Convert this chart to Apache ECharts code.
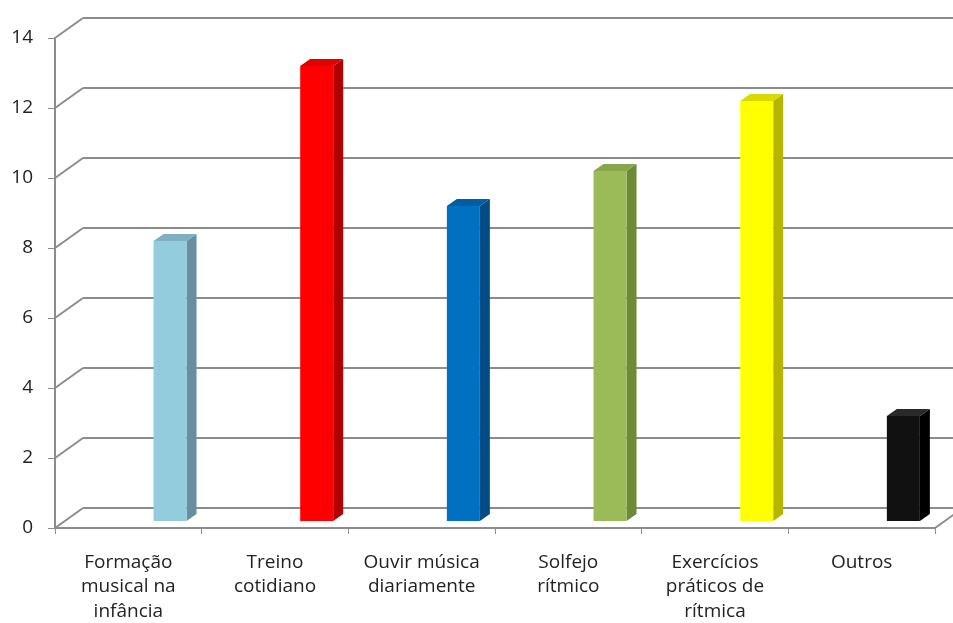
<!DOCTYPE html>
<html>
<head>
<meta charset="utf-8">
<script src="https://cdn.jsdelivr.net/npm/echarts@6/dist/echarts.min.js"></script>
<style>
html,body{margin:0;padding:0;background:#fff;}
#main{width:953px;height:623px;}
</style>
</head>
<body>
<div id="main"></div>
<script>
const categories = ['Formação\nmusical na\ninfância', 'Treino\ncotidiano', 'Ouvir música\ndiariamente', 'Solfejo\nrítmico', 'Exercícios\npráticos de\nrítmica', 'Outros'];
const values = [8, 13, 9, 10, 12, 3];
const yTicks = [0, 2, 4, 6, 8, 10, 12, 14];
const faceColors = ['#93CDDD', '#FF0000', '#0070C0', '#9BBB59', '#FFFF00', '#111111'];
const sideColors = ['#66909F', '#B00000', '#004C85', '#6C8A38', '#B5B500', '#000000'];
const topColors = ['#7FAFC0', '#E00000', '#005EA3', '#88A64C', '#DADA00', '#2A2A2A'];

const gridColor = '#8c8c8c';
const DX = 28, DY = -20;

const chart = echarts.init(document.getElementById('main'), null, {renderer: 'canvas'});

const option = {
  animation: false,
  backgroundColor: '#ffffff',
  textStyle: {fontFamily: 'Open Sans'},
  grid: [
    {left: 55, top: 38, width: 880, height: 490, outerBoundsMode: 'none', containLabel: false},
    {left: 83, top: 18, width: 920, height: 490, outerBoundsMode: 'none', containLabel: false},
    {left: 96.7, top: 31, width: 880, height: 490, outerBoundsMode: 'none', containLabel: false}
  ],
  xAxis: [
    {
      gridIndex: 0, type: 'category', data: categories, boundaryGap: true,
      axisLine: {lineStyle: {color: gridColor, width: 2}},
      axisTick: {show: true, length: 6, lineStyle: {color: gridColor, width: 1}},
      axisLabel: {color: '#222222', fontSize: 19, lineHeight: 24.5, margin: 22, interval: 0, fontFamily: 'Open Sans'},
      splitLine: {show: false}
    },
    {gridIndex: 1, type: 'value', min: 0, max: 1, show: false},
    {gridIndex: 2, type: 'category', data: categories, boundaryGap: true, show: false}
  ],
  yAxis: [
    {
      gridIndex: 0, type: 'value', min: 0, max: 14, interval: 2,
      axisLine: {show: true, lineStyle: {color: gridColor, width: 2}},
      axisTick: {show: true, length: 7, lineStyle: {color: gridColor, width: 1}},
      axisLabel: {color: '#222222', fontSize: 19, margin: 22, fontFamily: 'Open Sans'},
      splitLine: {show: false}
    },
    {
      gridIndex: 1, type: 'value', min: 0, max: 14, interval: 2,
      axisLine: {show: false}, axisTick: {show: false}, axisLabel: {show: false},
      splitLine: {show: true, lineStyle: {color: gridColor, width: 2}}
    },
    {gridIndex: 2, type: 'value', min: 0, max: 14, interval: 2, show: false}
  ],
  series: [
    {
      type: 'custom', xAxisIndex: 0, yAxisIndex: 0, z: 3,
      data: yTicks.map(v => [0, v]),
      renderItem: function (params, api) {
        const cs = params.coordSys;
        const p = api.coord([0, api.value(1)]);
        const children = [{
          type: 'line',
          shape: {x1: cs.x, y1: p[1], x2: cs.x + DX, y2: p[1] + DY},
          style: {stroke: gridColor, lineWidth: 2}
        }];
        if (api.value(1) === 0) {
          children.push({
            type: 'line',
            shape: {x1: cs.x + cs.width, y1: p[1], x2: cs.x + cs.width + DX, y2: p[1] + DY},
            style: {stroke: gridColor, lineWidth: 2}
          });
        }
        return {type: 'group', children: children};
      }
    },
    {
      type: 'custom', xAxisIndex: 2, yAxisIndex: 2, z: 5,
      data: values.map((v, i) => [i, v]),
      renderItem: function (params, api) {
        const i = api.value(0), v = api.value(1);
        const top = api.coord([i, v]);
        const base = api.coord([i, 0]);
        const w = api.size([1, 0])[0] * 0.225;
        const dx = 10, dy = -7;
        const x0 = top[0] - w / 2, x1 = top[0] + w / 2;
        const idx = params.dataIndex;
        return {
          type: 'group',
          children: [
            {type: 'polygon', shape: {points: [[x1, top[1]], [x1 + dx, top[1] + dy], [x1 + dx, base[1] + dy], [x1, base[1]]]}, style: {fill: sideColors[idx]}},
            {type: 'polygon', shape: {points: [[x0, top[1]], [x0 + dx, top[1] + dy], [x1 + dx, top[1] + dy], [x1, top[1]]]}, style: {fill: topColors[idx]}},
            {type: 'rect', shape: {x: x0, y: top[1], width: w, height: base[1] - top[1]}, style: {fill: faceColors[idx]}}
          ]
        };
      }
    }
  ]
};
chart.setOption(option);
</script>
</body>
</html>
